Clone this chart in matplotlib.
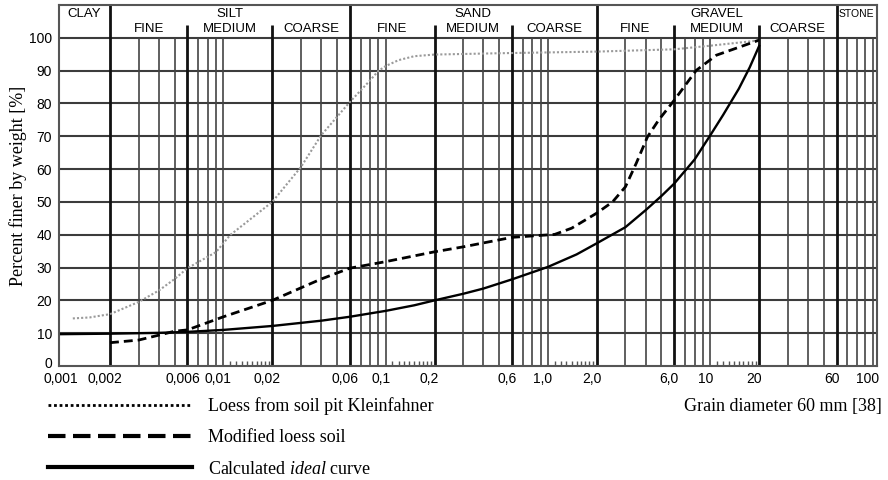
import matplotlib.pyplot as plt
from matplotlib.lines import Line2D
from matplotlib.ticker import FixedLocator, FixedFormatter, NullLocator
import matplotlib.transforms as mtransforms

plt.rcParams["mathtext.fontset"] = "custom"
plt.rcParams["mathtext.rm"] = "Liberation Serif"
plt.rcParams["mathtext.it"] = "Liberation Serif:italic"

SANS = "Liberation Sans"
SERIF = "Liberation Serif"

# Grain size distribution curves (grain diameter in mm, percent finer by weight).
loess_d = [0.00118, 0.0015, 0.002, 0.003, 0.004, 0.005, 0.006, 0.009, 0.011,
           0.02, 0.03, 0.04, 0.06, 0.08, 0.09, 0.1, 0.12, 0.15, 0.2, 0.5,
           2.0, 6.0, 10, 20]
loess_p = [14.5, 14.8, 15.8, 19.5, 23.0, 26.5, 29.8, 34.7, 39.9,
           50.0, 60.6, 70.3, 80.4, 87.0, 89.9, 91.4, 93.2, 94.4, 94.9, 95.3,
           95.8, 96.5, 97.6, 99.2]

modified_d = [0.002, 0.003, 0.004, 0.005, 0.006, 0.01, 0.02, 0.04, 0.06, 0.1,
              0.2, 0.3, 0.6, 1.1, 1.4, 2.0, 2.5, 3.0, 3.5, 4.1, 4.8, 6.0,
              8.2, 10.9, 20]
modified_p = [7.1, 7.9, 9.4, 10.6, 11.0, 15.0, 20.0, 26.5, 29.8, 31.8,
              34.8, 36.3, 39.2, 40.1, 42.0, 46.6, 50.0, 54.6, 61.8, 69.8, 74.9, 81.0,
              90.1, 94.7, 99.3]

ideal_d = [0.001, 0.002, 0.004, 0.006, 0.01, 0.02, 0.04, 0.06, 0.1, 0.15,
           0.2, 0.3, 0.4, 0.6, 1.0, 1.5, 2.0, 3.0, 4.0, 5.0, 6.0, 8.0, 10,
           12, 15, 17.5, 20]
ideal_p = [9.7, 9.85, 10.1, 10.4, 11.0, 12.2, 13.8, 15.0, 16.8, 18.5,
           20.0, 22.0, 23.6, 26.4, 30.2, 34.0, 37.4, 42.3, 47.5, 51.8, 55.6,
           62.9, 70.3, 76.5, 84.5, 91.0, 97.5]

# Axis ticks.
x_ticks = [0.001, 0.002, 0.006, 0.01, 0.02, 0.06, 0.1, 0.2, 0.6, 1.0, 2.0,
           6.0, 10, 20, 60, 100]
x_tick_labels = ["0,001", "0,002", "0,006", "0,01", "0,02", "0,06", "0,1",
                 "0,2", "0,6", "1,0", "2,0", "6,0", "10", "20", "60", "100"]
y_ticks = [0, 10, 20, 30, 40, 50, 60, 70, 80, 90, 100]

# Soil classes and their boundaries.
groups = ["CLAY", "SILT", "SAND", "GRAVEL", "STONE"]
subgroups = ["FINE", "MEDIUM", "COARSE"]
group_bounds = [0.002, 0.06, 2.0, 60]
sub_bounds = [0.006, 0.02, 0.2, 0.6, 6.0, 20]
thin_mult = [3, 4, 5, 7, 8, 9, 10]
small_mult = [1.1, 1.2, 1.3, 1.4, 1.5, 1.6, 1.7, 1.8, 1.9]

X_MIN, X_MAX = 0.00097, 106.5


def draw_chart():
    fig = plt.figure(figsize=(8.88, 4.8), dpi=100)
    ax = fig.add_axes([59 / 888, 114 / 480, 818 / 888, 361 / 480])
    ax.set_xscale("log")
    ax.set_xlim(X_MIN, X_MAX)
    ax.set_ylim(0, 110)

    # Horizontal grid.
    ax.hlines(y_ticks[1:], X_MIN, X_MAX, colors="#3c3c3c", lw=1.5, zorder=1)

    # Vertical grid: thin lines, class subdivisions and class boundaries.
    thin = [m * 10.0**e for e in range(-3, 2) for m in thin_mult]
    ax.vlines(thin, 0, 100, colors="#444444", lw=1.2, zorder=1)
    ax.vlines(sub_bounds, 0, 104, colors="#111111", lw=2.0, zorder=2)
    ax.vlines(group_bounds, 0, 110, colors="#111111", lw=2.0, zorder=2)

    # Small ticks along the bottom in each 1-2 interval.
    small = [m * b for b in (0.01, 0.1, 1.0, 10.0) for m in small_mult]
    ax.vlines(small, 0, 1.6, colors="#555555", lw=1.0, zorder=2)

    # Header with soil classes.
    edges = [X_MIN] + group_bounds + [X_MAX]
    for i, name in enumerate(groups):
        xc = (edges[i] * edges[i + 1]) ** 0.5
        ax.text(xc, 107.4, name, ha="center", va="center", family=SANS,
                fontsize=7.5 if name == "STONE" else 9.5)
    for lo, hi in [(0.002, 0.06), (0.06, 2.0), (2.0, 60)]:
        bounds = [lo] + [b for b in sub_bounds if lo < b < hi] + [hi]
        for j, name in enumerate(subgroups):
            xc = (bounds[j] * bounds[j + 1]) ** 0.5
            ax.text(xc, 102.6, name, ha="center", va="center", family=SANS,
                    fontsize=9.5)

    # Curves.
    ax.plot(loess_d, loess_p, color="#9a9a9a", lw=1.5, ls=(0, (1, 1)), zorder=4)
    ax.plot(modified_d, modified_p, color="black", lw=2.0, ls=(0, (3.2, 1.8)),
            zorder=5)
    ax.plot(ideal_d, ideal_p, color="black", lw=1.7, zorder=5)

    # Ticks.
    ax.xaxis.set_major_locator(FixedLocator(x_ticks))
    ax.xaxis.set_major_formatter(FixedFormatter(x_tick_labels))
    ax.xaxis.set_minor_locator(NullLocator())
    ax.set_yticks(y_ticks)
    ax.tick_params(axis="both", length=0, labelsize=10)
    ax.tick_params(axis="x", pad=4)
    ax.tick_params(axis="y", pad=5)
    for lbl in ax.get_xticklabels() + ax.get_yticklabels():
        lbl.set_family(SANS)
    shift = mtransforms.ScaledTranslation(-5 / 100, 0, fig.dpi_scale_trans)
    for lbl in ax.get_xticklabels()[1:]:
        lbl.set_transform(lbl.get_transform() + shift)
    lift = mtransforms.ScaledTranslation(0, 3 / 100, fig.dpi_scale_trans)
    zero_lbl = ax.get_yticklabels()[0]
    zero_lbl.set_transform(zero_lbl.get_transform() + lift)

    for sp in ax.spines.values():
        sp.set_color("#555555")
        sp.set_linewidth(1.5)

    fig.text(18 / 888, 1 - 186 / 480, "Percent finer by weight [%]",
             rotation=90, ha="center", va="center", family=SERIF, fontsize=13)

    # Legend below the chart.
    handles = [
        Line2D([], [], color="black", lw=2.0, ls=(0, (1, 1))),
        Line2D([], [], color="black", lw=3.0, ls=(0, (4.2, 1.8))),
        Line2D([], [], color="black", lw=3.0),
    ]
    labels = ["Loess from soil pit Kleinfahner", "Modified loess soil",
              r"Calculated $\mathit{ideal}$ curve"]
    fig.legend(handles, labels, loc="upper left",
               bbox_to_anchor=(48 / 888, 1 - 397 / 480), frameon=False,
               prop={"family": SERIF, "size": 13}, handlelength=8.0,
               handletextpad=0.85, labelspacing=0.8, borderpad=0,
               borderaxespad=0)
    fig.text(882 / 888, 1 - 406 / 480, "Grain diameter 60 mm [38]",
             ha="right", va="center", family=SERIF, fontsize=13)

    fig.savefig("out.png", dpi=100)
    plt.close(fig)


if __name__ == "__main__":
    draw_chart()
